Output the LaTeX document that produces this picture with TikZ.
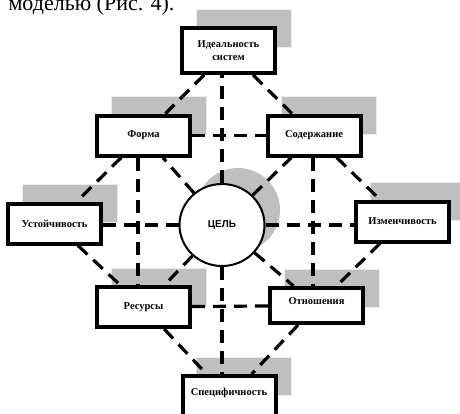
\documentclass[tikz,border=0pt]{standalone}
\usepackage{fontspec}
\setmainfont{Liberation Serif}
\newfontfamily\celfont{Liberation Sans}
\usetikzlibrary{backgrounds,shapes.geometric}

\tikzset{
	factor/.style = {draw=black, line width=4pt, fill=white, minimum width=93pt, minimum height=40pt, inner sep=1pt, align=center, font=\bfseries\fontsize{10.5}{13}\selectfont},
	backing/.style = {fill=black!25, draw=black!8, line width=1pt},
	link/.style = {line width=3.2pt, dash pattern=on 13pt off 8pt}
}

\begin{document}
\begin{tikzpicture}[x=1pt,y=-1pt]
	\clip (0,0) rectangle (460,413);
	\node[anchor=base west, font=\fontsize{22}{24}\selectfont] (caption) at (5,10.5) {моделью (Рис. 4).};
	% the goal in the middle
	\node[ellipse, draw=black, line width=2pt, fill=white, minimum width=85pt, minimum height=82pt, font=\celfont\bfseries\fontsize{10}{12}\selectfont] (cel) at (222,225) {ЦЕЛЬ};
	% the eight factors round it
	\node[factor, minimum height=45pt] (ideal) at (228.5,50.5) {Идеальность\\систем};
	\node[factor] (forma) at (143.5,135.5) {Форма};
	\node[factor] (soder) at (314,135.5) {Содержание};
	\node[factor] (ustoi) at (54.5,223.5) {Устойчивость};
	\node[factor] (izmen) at (402.5,221.5) {Изменчивость};
	\node[factor] (resur) at (143.5,307) {Ресурсы};
	\node[factor, minimum height=35pt, text depth=9pt] (otnosh) at (316.5,305.5) {Отношения};
	\node[factor, minimum height=44pt, text depth=12pt] (spec) at (229,398) {Специфичность};

	\begin{scope}[on background layer]
		% grey backings
		\fill[black!25] ([shift={(16,-15)}]cel.center) circle (42);
		\foreach \f in {ideal,forma,soder,ustoi,izmen,resur,otnosh,spec}
			\draw[backing] ([shift={(16,-17)}]\f.north west) rectangle ++(95,38);
		% outer ring
		\draw[link] (ideal) -- (forma);
		\draw[link] (ideal) -- (soder);
		\draw[link] (forma) -- (ustoi);
		\draw[link] (soder) -- (izmen);
		\draw[link] (ustoi) -- (resur);
		\draw[link] (izmen) -- (otnosh);
		\draw[link] (resur) -- (spec);
		\draw[link] (otnosh) -- (spec);
		% cross links
		\draw[link] (forma) -- (soder);
		\draw[link] (resur) -- (otnosh);
		\draw[link] (forma.south -| 138,0) -- (resur.north -| 138,0);
		\draw[link] (soder.south -| 313,0) -- (otnosh.north -| 313,0);
		% spokes from the goal
		\draw[link] (cel) -- (cel |- ideal.south);
		\draw[link] (cel) -- (cel |- spec.north);
		\draw[link] (cel) -- (cel -| ustoi.east);
		\draw[link] (cel) -- (cel -| izmen.west);
		\draw[link] (cel) -- (forma);
		\draw[link] (cel) -- (soder);
		\draw[link] (cel) -- (resur);
		\draw[link] (cel) -- (otnosh);
	\end{scope}
\end{tikzpicture}
\end{document}
